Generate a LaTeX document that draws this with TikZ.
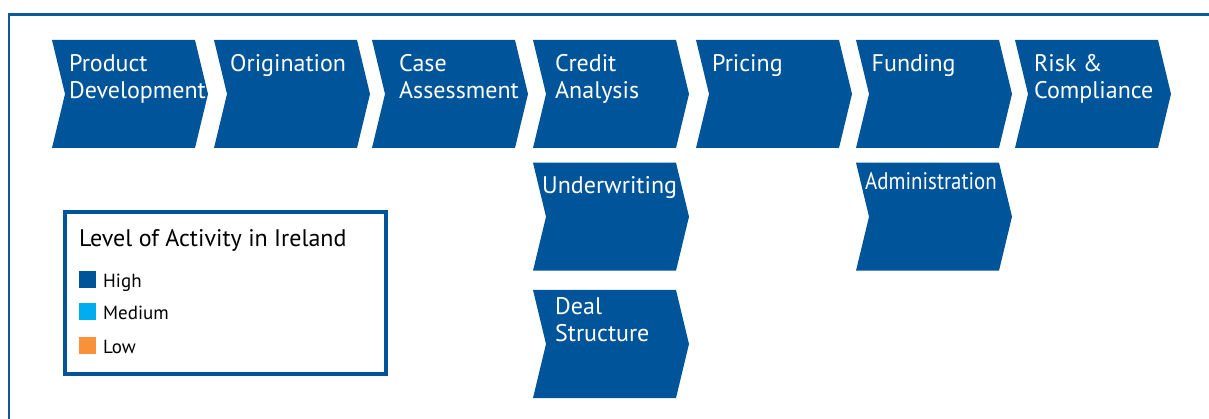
\documentclass[tikz,border=0pt]{standalone}
\usepackage{fontspec}
\setmainfont{PT Sans}
\definecolor{hiblue}{HTML}{00559A}
\definecolor{medblue}{HTML}{00AEEF}
\definecolor{loworange}{HTML}{F7923A}
\definecolor{framecol}{HTML}{0A5A9C}
\newcommand\chevshape[3]{%
  \path[chevfill] (#1,#2) -- ++(143,0) -- ++(13,#3/2) -- ++(-13,#3/2) -- ++(-143,0) -- ++(13,-#3/2) -- cycle;}
\begin{document}
\begin{tikzpicture}[x=1pt,y=-1pt,
  chevfill/.style={fill=hiblue},
  lbl/.style={text=white,anchor=base west,inner sep=0pt,font=\fontsize{24}{27}\selectfont},
  legtext/.style={text=black,anchor=base west,inner sep=0pt,font=\fontsize{19}{22}\selectfont},
  legtitle/.style={text=black,anchor=base west,inner sep=0pt,font=\fontsize{24}{27}\selectfont},
  framestyle/.style={draw=framecol,line width=2.5pt},
  legbox/.style={draw=hiblue,line width=4pt,fill=white},
  swatch/.style={inner sep=0pt,minimum size=17pt,anchor=north west}]
\useasboundingbox (0,0) rectangle (1209,419);
\draw[framestyle] (9,425) -- (9,14.7) -- (1215,14.7);
% top row
\chevshape{52}{40}{108}
\chevshape{214}{40}{108}
\chevshape{372}{40}{108}
\chevshape{533}{40}{108}
\chevshape{696}{40}{108}
\chevshape{856}{40}{108}
\chevshape{1015}{40}{108}
% lower
\chevshape{533}{162.7}{108}
\chevshape{533}{290}{108}
\chevshape{856}{162.7}{108}
% labels
\node[lbl] (pd1) at (69,72) {Product};
\node[lbl] (pd2) at (69,99) {Development};
\node[lbl] (or1) at (230,72) {Origination};
\node[lbl] (ca1) at (399,72) {Case};
\node[lbl] (ca2) at (399,99) {Assessment};
\node[lbl] (cr1) at (555,72) {Credit};
\node[lbl] (cr2) at (555,99) {Analysis};
\node[lbl] (pr1) at (712,72) {Pricing};
\node[lbl] (fu1) at (871.5,72) {Funding};
\node[lbl] (rc1) at (1034,72) {Risk \&};
\node[lbl] (rc2) at (1034,99) {Compliance};
\node[lbl] (uw1) at (542,193.3) {Underwriting};
\node[lbl] (ad1) at (865,190) {\scalebox{0.87}[1]{Administration}};
\node[lbl] (ds1) at (555,315) {Deal};
\node[lbl] (ds2) at (555,341.7) {Structure};
% legend
\draw[legbox] (65.3,212) rectangle (386,374);
\node[legtitle] (lt) at (79,246.7) {Level of Activity in Ireland};
\node[swatch,fill=hiblue] (sh) at (79,271) {};
\node[swatch,fill=medblue] (sm) at (79,303) {};
\node[swatch,fill=loworange] (sl) at (79,337) {};
\node[legtext] (lh) at (103,287.3) {High};
\node[legtext] (lm) at (103,319.3) {Medium};
\node[legtext] (ll) at (103,353.3) {Low};
\end{tikzpicture}
\end{document}
